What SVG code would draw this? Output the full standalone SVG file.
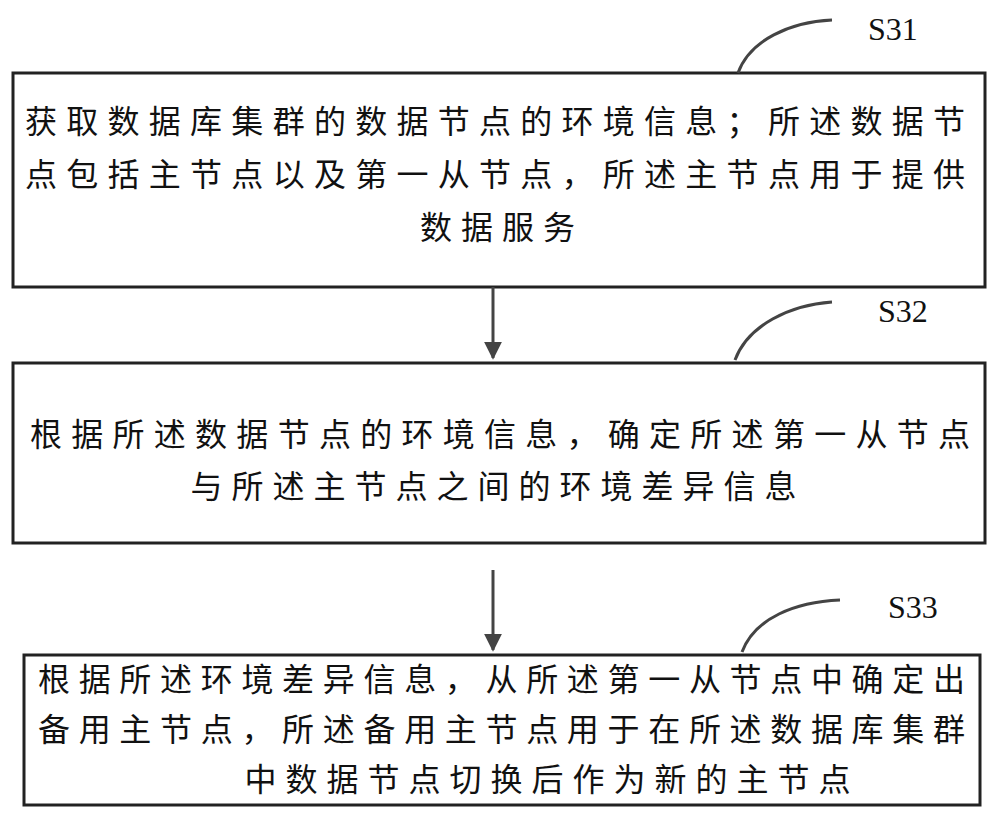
<svg xmlns="http://www.w3.org/2000/svg" width="1000" height="820" viewBox="0 0 1000 820">
<style>
.box{fill:#fff;stroke:#222;stroke-width:3}
.t{font-family:"Noto Sans CJK SC","Noto Sans",sans-serif;font-size:32px;fill:#111}
.c{letter-spacing:9px;text-anchor:middle}
.lbl{font-family:"Liberation Serif",serif;font-size:32px;fill:#111}
.cv{fill:none;stroke:#444;stroke-width:3}
.ar{stroke:#444;stroke-width:3}
</style>
<defs>
<marker id="h" viewBox="0 0 10 10" markerWidth="18" markerHeight="22" refX="9" refY="5" orient="auto" markerUnits="userSpaceOnUse"><path d="M0,0 L10,5 L0,10 z" fill="#444"/></marker></defs>
<g id="s31">
<rect class="box" x="13" y="73" width="972" height="214"/>
<text class="t" x="25" y="133" textLength="940" lengthAdjust="spacing">获取数据库集群的数据节点的环境信息；所述数据节</text>
<text class="t" x="25" y="186" textLength="940" lengthAdjust="spacing">点包括主节点以及第一从节点，所述主节点用于提供</text>
<text class="t c" x="502" y="239">数据服务</text>
<path class="cv" d="M738,73 C750,40 790,22 832,20"/><text class="lbl" x="868" y="40">S31</text>
</g>
<g id="s32">
<rect class="box" x="13" y="363" width="972" height="180"/>
<text class="t" x="30" y="446" textLength="940" lengthAdjust="spacing">根据所述数据节点的环境信息，确定所述第一从节点</text>
<text class="t c" x="498" y="498">与所述主节点之间的环境差异信息</text>
<path class="cv" d="M735,360 C748,325 790,305 832,302"/><text class="lbl" x="878" y="322">S32</text>
</g>
<g id="s33">
<rect class="box" x="24" y="655" width="956" height="150"/>
<text class="t" x="38" y="691" textLength="927" lengthAdjust="spacing">根据所述环境差异信息，从所述第一从节点中确定出</text>
<text class="t" x="38" y="741" textLength="927" lengthAdjust="spacing">备用主节点，所述备用主节点用于在所述数据库集群</text>
<text class="t c" x="552" y="791">中数据节点切换后作为新的主节点</text>
<path class="cv" d="M742,652 C755,618 795,602 840,600"/><text class="lbl" x="888" y="618">S33</text>
</g>
<g id="connectors">
<line class="ar" x1="493" y1="287" x2="493" y2="358" marker-end="url(#h)"/>
<line class="ar" x1="493" y1="570" x2="493" y2="650" marker-end="url(#h)"/>
</g>
</svg>
